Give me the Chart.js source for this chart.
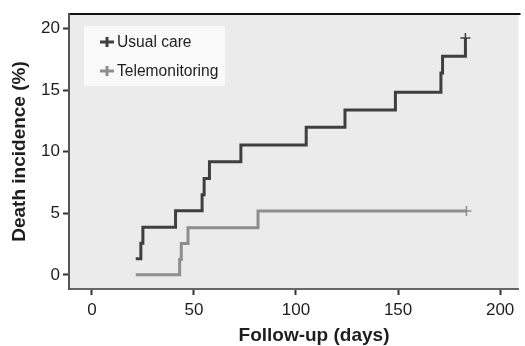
<!DOCTYPE html>
<html>
<head>
<meta charset="utf-8">
<script src="https://cdn.jsdelivr.net/npm/chart.js@4"></script>
<style>
  html, body { margin: 0; padding: 0; background: #fff; }
  #wrap { width: 525px; height: 346px; }
</style>
</head>
<body>
<div id="wrap"><canvas id="js-km"></canvas></div>
<script>
'use strict'

// Kaplan-Meier style step data
const usualDays = [21.5, 24, 25, 41, 54, 55, 57.6, 73, 105, 124, 148.7, 171, 171.8, 183]
const usualPct  = [1.3, 2.57, 3.86, 5.2, 6.5, 7.83, 9.2, 10.55, 12.0, 13.4, 14.84, 16.4, 17.76, 19.25]
const teleDays  = [21.5, 43, 43.8, 47.1, 81.4, 183.5]
const telePct   = [0, 1.25, 2.55, 3.83, 5.18, 5.18]

const xTicks = [0, 50, 100, 150, 200]
const yTicks = [0, 5, 10, 15, 20]
const seriesNames = ['Usual care', 'Telemonitoring']

const colors = {
  usual: '#3f3f3f',
  tele: '#8e8e8e',
  plotBg: '#ebebeb',
  text: '#1e1e1e',
  axis: '#555555'
}
const fontFamily = '"Liberation Sans", Arial, Helvetica, sans-serif'

const toPoints = (xs, ys) => xs.map((x, i) => ({ x: x, y: ys[i] }))

// only the last point gets a censor cross
const lastOnly = (ctx) => ctx.dataIndex === ctx.dataset.data.length - 1 ? 5 : 0

const plotBgPlugin = {
  id: 'plotBg',
  beforeDraw(chart) {
    const { ctx, chartArea: a } = chart
    ctx.save()
    ctx.fillStyle = colors.plotBg
    ctx.fillRect(a.left, a.top, a.right - a.left, a.bottom - a.top)
    // dark frame line on top
    ctx.strokeStyle = '#111'
    ctx.lineWidth = 2
    ctx.beginPath()
    ctx.moveTo(a.left - 1, a.top)
    ctx.lineTo(a.right + 2, a.top)
    ctx.stroke()
    ctx.restore()
  }
}

// legend box drawn inside the plot, top-left
const boxLegendPlugin = {
  id: 'boxLegend',
  afterDatasetsDraw(chart) {
    const { ctx, chartArea: a } = chart
    const x0 = a.left + 15
    const y0 = a.top + 12
    ctx.save()
    ctx.fillStyle = '#f9f9f9'
    ctx.fillRect(x0, y0, 141, 60)
    chart.data.datasets.forEach((ds, i) => {
      const cy = y0 + 16 + i * 29
      const mx = x0 + 23
      ctx.strokeStyle = ds.borderColor
      ctx.lineWidth = 3
      ctx.beginPath()
      ctx.moveTo(mx - 7, cy)
      ctx.lineTo(mx + 7, cy)
      ctx.moveTo(mx, cy - 5)
      ctx.lineTo(mx, cy + 5)
      ctx.stroke()
      ctx.fillStyle = colors.text
      ctx.font = '15.6px ' + fontFamily
      ctx.textBaseline = 'middle'
      ctx.textAlign = 'left'
      ctx.fillText(ds.label, x0 + 33, cy + 1)
    })
    ctx.restore()
  }
}

// x axis title, sits a bit right of centre in the original
const xTitlePlugin = {
  id: 'xTitle',
  afterDraw(chart) {
    const { ctx } = chart
    ctx.save()
    ctx.fillStyle = colors.text
    ctx.font = 'bold 19px ' + fontFamily
    ctx.textAlign = 'center'
    ctx.textBaseline = 'middle'
    ctx.fillText('Follow-up (days)', 314, 336)
    ctx.restore()
  }
}

const config = {
  type: 'line',
  data: {
    datasets: [{
      label: seriesNames[0],
      data: toPoints(usualDays, usualPct),
      borderColor: colors.usual,
      backgroundColor: colors.usual,
      borderWidth: 3,
      stepped: true,
      borderJoinStyle: 'miter',
      pointStyle: 'cross',
      pointRadius: lastOnly,
      pointBorderWidth: 1.5,
      pointHoverRadius: 0
    }, {
      label: seriesNames[1],
      data: toPoints(teleDays, telePct),
      borderColor: colors.tele,
      backgroundColor: colors.tele,
      borderWidth: 3,
      stepped: true,
      borderJoinStyle: 'miter',
      pointStyle: 'cross',
      pointRadius: lastOnly,
      pointBorderWidth: 1.5,
      pointHoverRadius: 0
    }]
  },
  options: {
    responsive: true,
    maintainAspectRatio: false,
    animation: false,
    layout: { padding: { left: 0, top: 14, right: 2, bottom: 0 } },
    plugins: {
      legend: { display: false },
      tooltip: { enabled: false }
    },
    scales: {
      x: {
        type: 'linear',
        min: -11.2,
        max: 209,
        afterBuildTicks: (scale) => { scale.ticks = xTicks.map(v => ({ value: v })) },
        afterFit: (scale) => { scale.height = 57 },
        grid: {
          drawOnChartArea: false,
          drawTicks: true,
          tickLength: 6,
          tickWidth: 2,
          tickColor: '#333'
        },
        border: { color: '#666', width: 2 },
        ticks: {
          color: colors.text,
          padding: 5,
          maxRotation: 0,
          font: { family: fontFamily, size: 17 }
        }
      },
      y: {
        min: -1.15,
        max: 21.2,
        afterBuildTicks: (scale) => { scale.ticks = yTicks.map(v => ({ value: v })) },
        afterFit: (scale) => { scale.width = 69 },
        grid: {
          drawOnChartArea: false,
          drawTicks: true,
          tickLength: 6,
          tickWidth: 2,
          tickColor: '#333'
        },
        border: { color: colors.axis, width: 2 },
        ticks: {
          color: colors.text,
          padding: 3,
          font: { family: fontFamily, size: 17 }
        },
        title: {
          display: true,
          text: 'Death incidence (%)',
          color: colors.text,
          padding: { top: 8, bottom: 0 },
          font: { family: fontFamily, size: 19, weight: 'bold' }
        }
      }
    }
  },
  plugins: [plotBgPlugin, boxLegendPlugin, xTitlePlugin]
}

new Chart(document.getElementById('js-km'), config)
</script>
</body>
</html>
